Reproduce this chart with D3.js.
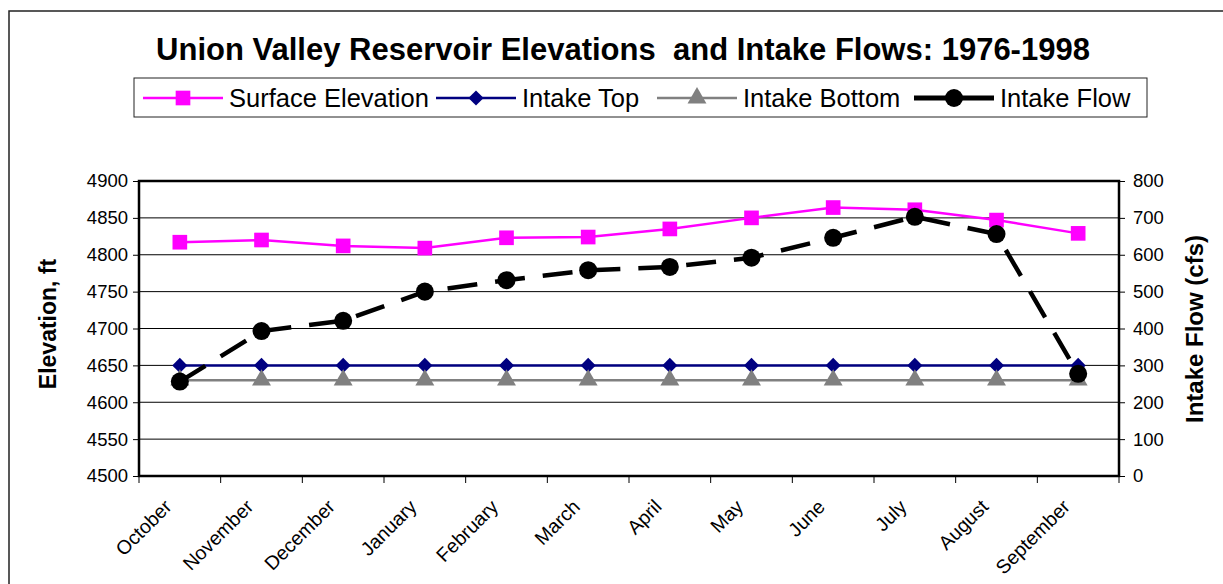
<!DOCTYPE html>
<html>
<head>
<meta charset="utf-8">
<script src="https://cdn.jsdelivr.net/npm/d3@7"></script>
<style>
  body { margin: 0; background: #fff; }
  text { font-family: "Liberation Sans", Arial, sans-serif; }
</style>
</head>
<body>
<script>
// chart values
const months = ["October", "November", "December", "January", "February", "March",
                "April", "May", "June", "July", "August", "September"];
const surfaceElevation = [4817, 4820, 4812, 4809, 4823, 4824, 4835, 4850, 4864, 4861, 4847, 4829];
const intakeTop = [4650, 4650, 4650, 4650, 4650, 4650, 4650, 4650, 4650, 4650, 4650, 4650];
const intakeBottom = [4630, 4630, 4630, 4630, 4630, 4630, 4630, 4630, 4630, 4630, 4630, 4630];
const intakeFlow = [256, 393, 421, 500, 531, 558, 567, 592, 646, 703, 656, 277];
const elevTicks = [4500, 4550, 4600, 4650, 4700, 4750, 4800, 4850, 4900];
const flowTicks = [0, 100, 200, 300, 400, 500, 600, 700, 800];

let canvasW = 1223;
let canvasH = 584;

let plotL = 139, plotR = 1119, plotT = 181, plotB = 476;

let svg = d3.select("body").append("svg")
  .attr("width", canvasW)
  .attr("height", canvasH);

// outer frame (runs off the right and bottom edge)
svg.append("rect")
  .attr("x", 9).attr("y", 11)
  .attr("width", 1230).attr("height", 600)
  .attr("fill", "white")
  .attr("stroke", "#222").attr("stroke-width", 1.5);

let x = d3.scaleBand().domain(months).range([plotL, plotR]).padding(0);
let cx = m => x(m) + x.bandwidth() / 2;
let yL = d3.scaleLinear().domain([4500, 4900]).range([plotB, plotT]);
let yR = d3.scaleLinear().domain([0, 800]).range([plotB, plotT]);

// title
svg.append("text")
  .attr("x", 623).attr("y", 60)
  .attr("text-anchor", "middle")
  .attr("font-size", "31px")
  .attr("font-weight", "bold")
  .style("white-space", "pre")
  .text("Union Valley Reservoir Elevations  and Intake Flows: 1976-1998");

// gridlines
svg.append("g").selectAll("line")
  .data(elevTicks.slice(1, -1))
  .enter().append("line")
    .attr("x1", plotL).attr("x2", plotR)
    .attr("y1", d => yL(d)).attr("y2", d => yL(d))
    .attr("stroke", "black").attr("stroke-width", 1);

// left axis
let axL = svg.append("g")
  .attr("transform", `translate(${plotL},0)`)
  .call(d3.axisLeft(yL).tickValues(elevTicks).tickSize(6).tickPadding(5).tickFormat(d3.format("d")));
axL.select(".domain").remove();
axL.selectAll("text").attr("font-size", "18.5px").attr("font-family", "'Liberation Sans', Arial, sans-serif").attr("fill", "black");

// right axis
let axR = svg.append("g")
  .attr("transform", `translate(${plotR},0)`)
  .call(d3.axisRight(yR).tickValues(flowTicks).tickSize(6).tickPadding(8).tickFormat(d3.format("d")));
axR.select(".domain").remove();
axR.selectAll("text").attr("font-size", "18.5px").attr("font-family", "'Liberation Sans', Arial, sans-serif").attr("fill", "black");

// bottom axis ticks at category boundaries
let bounds = months.map(m => x(m)).concat([plotR]);
svg.append("g").selectAll("line")
  .data(bounds)
  .enter().append("line")
    .attr("x1", d => d).attr("x2", d => d)
    .attr("y1", plotB).attr("y2", plotB + 7)
    .attr("stroke", "black").attr("stroke-width", 1);

svg.append("g").selectAll("text")
  .data(months)
  .enter().append("text")
    .attr("transform", d => `translate(${cx(d) - 7},${plotB + 32}) rotate(-45)`)
    .attr("text-anchor", "end")
    .attr("font-size", "19.5px")
    .text(d => d);

// plot border
svg.append("rect")
  .attr("x", plotL).attr("y", plotT)
  .attr("width", plotR - plotL).attr("height", plotB - plotT)
  .attr("fill", "none")
  .attr("stroke", "black").attr("stroke-width", 2.5);

// axis titles
svg.append("text")
  .attr("transform", "translate(56,324) rotate(-90)")
  .attr("text-anchor", "middle")
  .attr("font-size", "23px").attr("font-weight", "bold")
  .text("Elevation, ft");

svg.append("text")
  .attr("transform", "translate(1203,329) rotate(-90)")
  .attr("text-anchor", "middle")
  .attr("font-size", "24px").attr("font-weight", "bold")
  .text("Intake Flow (cfs)");

// series lines
let lineL = d3.line().x((d, i) => cx(months[i])).y(d => yL(d));
let lineR = d3.line().x((d, i) => cx(months[i])).y(d => yR(d));

const sym = {
  square: d3.symbol().type(d3.symbolSquare).size(215),
  diamond: d3.symbol().type(d3.symbolSquare).size(115),
  triangle: d3.symbol().type(d3.symbolTriangle).size(155),
  circle: d3.symbol().type(d3.symbolCircle).size(255)
};
const rot = { diamond: " rotate(45)" };

function series(g, vals, lineFn, yFn, color, width, dash, shape) {
  g.append("path")
    .attr("d", lineFn(vals))
    .attr("fill", "none")
    .attr("stroke", color)
    .attr("stroke-width", width)
    .attr("stroke-dasharray", dash);
  g.selectAll(".mk")
    .data(vals)
    .enter().append("path")
      .attr("transform", (d, i) => `translate(${cx(months[i])},${yFn(d)})` + (rot[shape] || ""))
      .attr("d", sym[shape])
      .attr("fill", color);
}

series(svg.append("g"), surfaceElevation, lineL, yL, "#FF00FF", 2.5, null, "square");
series(svg.append("g"), intakeTop, lineL, yL, "#000080", 2.5, null, "diamond");
series(svg.append("g"), intakeBottom, lineL, yL, "#808080", 2.5, null, "triangle");
series(svg.append("g"), intakeFlow, lineR, yR, "black", 4.5, "30,18", "circle");

// legend
svg.append("rect")
  .attr("x", 134).attr("y", 78)
  .attr("width", 1013).attr("height", 39)
  .attr("fill", "white")
  .attr("stroke", "#222").attr("stroke-width", 1);

const legendItems = [
  { name: "Surface Elevation", color: "#FF00FF", width: 2.5, shape: "square", x0: 143 },
  { name: "Intake Top", color: "#000080", width: 2.5, shape: "diamond", x0: 436 },
  { name: "Intake Bottom", color: "#808080", width: 2.5, shape: "triangle", x0: 657 },
  { name: "Intake Flow", color: "black", width: 5, shape: "circle", x0: 914 }
];
let ly = 98;
let lg = svg.append("g").selectAll("g")
  .data(legendItems)
  .enter().append("g");
lg.append("line")
  .attr("x1", d => d.x0).attr("x2", d => d.x0 + 80)
  .attr("y1", ly).attr("y2", ly)
  .attr("stroke", d => d.color).attr("stroke-width", d => d.width);
lg.append("path")
  .attr("transform", d => `translate(${d.x0 + 40},${ly})` + (rot[d.shape] || ""))
  .attr("d", d => sym[d.shape]())
  .attr("fill", d => d.color);
lg.append("text")
  .attr("x", d => d.x0 + 86).attr("y", ly + 9)
  .attr("font-size", "25.5px")
  .text(d => d.name);
</script>
</body>
</html>
